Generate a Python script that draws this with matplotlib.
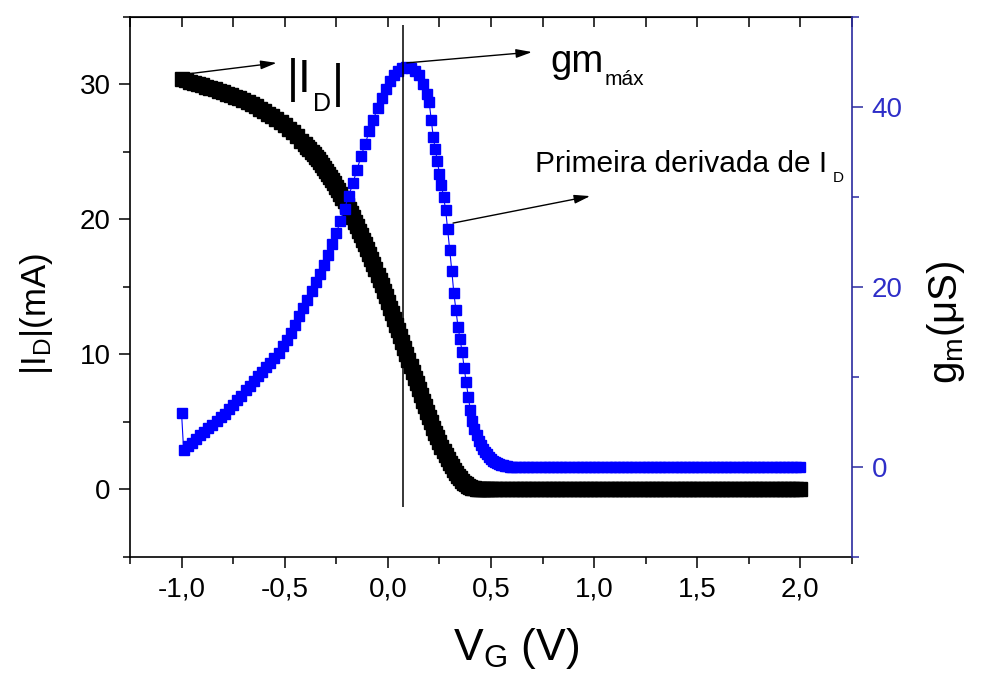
import numpy as np
import matplotlib
matplotlib.use("Agg")
import matplotlib.pyplot as plt
from matplotlib.ticker import MultipleLocator, FuncFormatter

plt.rcParams['font.family'] = ['Liberation Sans', 'DejaVu Sans']
plt.rcParams['mathtext.fontset'] = 'custom'
plt.rcParams['mathtext.rm'] = 'Liberation Sans'
plt.rcParams['mathtext.it'] = 'Liberation Sans'
plt.rcParams['axes.unicode_minus'] = False

# |I_D| (mA): 0.02 V steps to -0.42 V, 0.01 V steps to 0.50 V, then 0.02 V up to 2.0 V
vg_id = np.round(np.concatenate([
    np.arange(-1.00, -0.4199, 0.02),
    np.arange(-0.40, 0.5001, 0.01),
    np.arange(0.52, 2.0001, 0.02),
]), 2)
id_ma = [
    30.38, 30.30, 30.21, 30.12, 30.03, 29.94, 29.85, 29.75, 29.65, 29.55,
    29.44, 29.33, 29.22, 29.10, 28.97, 28.84, 28.70, 28.55, 28.39, 28.22,
    28.04, 27.85, 27.65, 27.44, 27.22, 26.98, 26.72, 26.45, 26.15, 25.85,
    25.56, 25.39, 25.21, 25.03, 24.84, 24.65, 24.45, 24.25, 24.04, 23.83,
    23.61, 23.38, 23.15, 22.91, 22.67, 22.42, 22.16, 21.89, 21.62, 21.34,
    21.05, 20.76, 20.46, 20.15, 19.83, 19.51, 19.18, 18.84, 18.50, 18.15,
    17.79, 17.43, 17.06, 16.68, 16.30, 15.91, 15.52, 15.12, 14.72, 14.31,
    13.90, 13.48, 13.06, 12.64, 12.21, 11.78, 11.35, 10.92, 10.48, 10.04,
    9.60, 9.16, 8.72, 8.29, 7.86, 7.43, 7.00, 6.58, 6.17, 5.76,
    5.36, 4.97, 4.59, 4.22, 3.86, 3.51, 3.17, 2.85, 2.54, 2.25,
    1.97, 1.71, 1.46, 1.23, 1.02, 0.83, 0.66, 0.51, 0.38, 0.28,
    0.20, 0.14, 0.09, 0.06, 0.04, 0.02, 0.01, 0.00, 0.00, 0.00,
    0.00,
    0.00, 0.00, 0.00, 0.00, 0.00, 0.00, 0.00, 0.00, 0.00, 0.00,
    0.00, 0.00, 0.00, 0.00, 0.00, 0.00, 0.00, 0.00, 0.00, 0.00,
    0.00, 0.00, 0.00, 0.00, 0.00, 0.00, 0.00, 0.00, 0.00, 0.00,
    0.00, 0.00, 0.00, 0.00, 0.00, 0.00, 0.00, 0.00, 0.00, 0.00,
    0.00, 0.00, 0.00, 0.00, 0.00, 0.00, 0.00, 0.00, 0.00, 0.00,
    0.00, 0.00, 0.00, 0.00, 0.00, 0.00, 0.00, 0.00, 0.00, 0.00,
    0.00, 0.00, 0.00, 0.00, 0.00, 0.00, 0.00, 0.00, 0.00, 0.00,
    0.00, 0.00, 0.00, 0.00, 0.00,
]

# gm (uS): first point, 0.02 V steps up to 0.19 V, 0.01 V steps to 0.60 V, then 0.02 V
vg_gm = np.round(np.concatenate([
    [-1.0],
    np.arange(-0.99, 0.1901, 0.02),
    np.arange(0.20, 0.6001, 0.01),
    np.arange(0.62, 2.0001, 0.02),
]), 2)
gm_us = [
    6.0,
    1.9, 2.3, 2.7, 3.1, 3.5, 3.9, 4.3, 4.7, 5.1, 5.5,
    5.9, 6.4, 6.9, 7.4, 7.9, 8.5, 9.0, 9.6, 10.1, 10.6,
    11.1, 11.6, 12.1, 12.7, 13.4, 14.1, 14.9, 15.8, 16.8, 17.7,
    18.6, 19.5, 20.5, 21.4, 22.4, 23.6, 24.8, 26.0, 27.3, 28.7,
    30.1, 31.5, 33.0, 34.5, 35.9, 37.3, 38.6, 39.9, 41.0, 42.0,
    42.9, 43.6, 44.0, 44.3, 44.4, 44.3, 44.0, 43.5, 42.6, 41.4,
    40.6, 38.6, 36.7, 35.3, 34.0, 32.6, 31.3, 30.0, 28.6, 26.4,
    24.1, 21.8, 19.3, 17.4, 15.6, 14.2, 12.8, 11.0, 9.4, 7.8,
    6.3, 5.1, 4.2, 3.5, 2.9, 2.4, 2.0, 1.7, 1.4, 1.1,
    0.9, 0.7, 0.55, 0.45, 0.35, 0.25, 0.18, 0.12, 0.07, 0.03,
    0.0,
    0.0, 0.0, 0.0, 0.0, 0.0, 0.0, 0.0, 0.0, 0.0, 0.0,
    0.0, 0.0, 0.0, 0.0, 0.0, 0.0, 0.0, 0.0, 0.0, 0.0,
    0.0, 0.0, 0.0, 0.0, 0.0, 0.0, 0.0, 0.0, 0.0, 0.0,
    0.0, 0.0, 0.0, 0.0, 0.0, 0.0, 0.0, 0.0, 0.0, 0.0,
    0.0, 0.0, 0.0, 0.0, 0.0, 0.0, 0.0, 0.0, 0.0, 0.0,
    0.0, 0.0, 0.0, 0.0, 0.0, 0.0, 0.0, 0.0, 0.0, 0.0,
    0.0, 0.0, 0.0, 0.0, 0.0, 0.0, 0.0, 0.0, 0.0, 0.0,
]

vg_gm_max = 0.075          # gate voltage at maximum gm
gm_line_span = (-4.4, 49.1)

BLUE = '#0000ff'
AXIS_BLUE = '#2b2ba0'
LABEL_BLUE = '#2e2ec8'


def comma_fmt(x, pos):
    return f"{x:.1f}".replace('.', ',')


fig = plt.figure(figsize=(9.81, 6.74), dpi=100)
ax = fig.add_axes([0.1325, 0.1736, 0.736, 0.8012])
ax2 = ax.twinx()

ax.plot(vg_id, id_ma, color='black', marker='s', markersize=9.5, lw=1, zorder=3)
ax2.plot(vg_gm, gm_us, color=BLUE, marker='s', markersize=7.2, lw=0.8, zorder=3)

ax.set_xlim(-1.25, 2.25)
ax.set_ylim(-5, 35)
ax2.set_ylim(-10, 50)

# left / bottom axes
ax.xaxis.set_major_locator(MultipleLocator(0.5))
ax.xaxis.set_minor_locator(MultipleLocator(0.25))
ax.xaxis.set_major_formatter(FuncFormatter(comma_fmt))
ax.yaxis.set_major_locator(MultipleLocator(10))
ax.yaxis.set_minor_locator(MultipleLocator(5))
ax.tick_params(which='both', direction='out', width=1.1, labelsize=20, colors='black')
ax.tick_params(which='major', length=8, pad=6)
ax.tick_params(which='minor', length=5)
ax.spines['right'].set_visible(False)
for s in ['left', 'bottom', 'top']:
    ax.spines[s].set_linewidth(1.2)

# inward ticks along the top edge
top = ax.secondary_xaxis('top')
top.xaxis.set_major_locator(MultipleLocator(0.25))
top.tick_params(direction='in', length=7, width=1.1, labeltop=False)

# right axis for gm
ax2.yaxis.set_major_locator(MultipleLocator(20))
ax2.yaxis.set_minor_locator(MultipleLocator(10))
ax2.tick_params(which='both', direction='out', width=1.1, color=AXIS_BLUE,
                labelcolor=LABEL_BLUE, labelsize=20)
ax2.tick_params(which='major', length=8, pad=6)
ax2.tick_params(which='minor', length=5)
for s in ['left', 'bottom', 'top']:
    ax2.spines[s].set_visible(False)
ax2.spines['right'].set_color(AXIS_BLUE)
ax2.spines['right'].set_linewidth(1.2)

ax.set_xlabel(r'$\mathregular{V_G\ (V)}$', fontsize=32, labelpad=17, x=0.535)
ax.set_ylabel(r'$\mathregular{|I_D|(mA)}$', fontsize=25, labelpad=18, y=0.45)
ax2.set_ylabel(r'$\mathregular{g_m(μS)}$', fontsize=29, labelpad=16, y=0.435)

# gm maximum marker line
ax2.vlines(vg_gm_max, *gm_line_span, color='black', lw=1.1, zorder=5)

arrow = dict(arrowstyle='-|>,head_length=0.8,head_width=0.22', color='black',
             lw=1.0, mutation_scale=12, shrinkA=0, shrinkB=0)
ax2.annotate('', xy=(-0.539, 44.9), xytext=(-0.961, 43.7), arrowprops=arrow, zorder=6)
ax2.annotate('', xy=(0.699, 46.1), xytext=(0.092, 44.9), arrowprops=arrow, zorder=6)
ax2.annotate('', xy=(0.981, 30.1), xytext=(0.316, 27.1), arrowprops=arrow, zorder=6)

# |I_D| label: offsets are from the bottom of each piece's box
t1 = ax2.text(-0.49, 41.7, '|I', fontsize=33, ha='left', va='baseline')
t1b = ax2.annotate('D', xy=(1, 0), xycoords=t1, xytext=(1, -7),
                   textcoords='offset points', fontsize=18, va='baseline')
ax2.annotate('|', xy=(1, 0), xycoords=t1b, xytext=(1, 6.5),
             textcoords='offset points', fontsize=33, va='bottom')

t2 = ax2.text(0.786, 43.9, 'gm', fontsize=27.5, ha='left', va='baseline')
ax2.annotate('máx', xy=(1, 0), xycoords=t2, xytext=(1, -3.5),
             textcoords='offset points', fontsize=15, va='baseline')

t3 = ax2.text(0.714, 32.8, 'Primeira derivada de I', fontsize=21.5,
              ha='left', va='baseline')
ax2.annotate('D', xy=(1, 0), xycoords=t3, xytext=(4, -3),
             textcoords='offset points', fontsize=11, va='baseline')

fig.savefig('out.png', dpi=100)
